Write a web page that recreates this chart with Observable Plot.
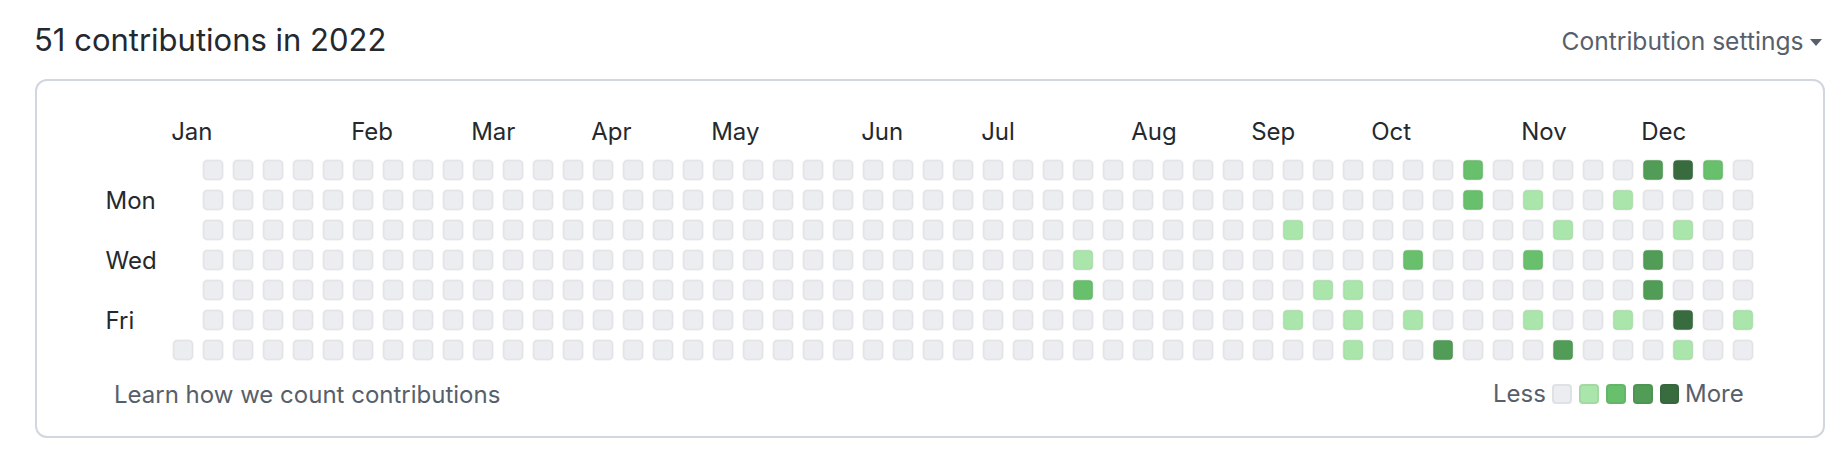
<!DOCTYPE html>
<html>
<head>
<meta charset="utf-8">
<script src="https://cdn.jsdelivr.net/npm/d3@7"></script>
<script src="https://cdn.jsdelivr.net/npm/@observablehq/plot@0.6"></script>
<style>
  html, body { margin: 0; padding: 0; background: #ffffff; }
  body { width: 1848px; height: 470px; position: relative; overflow: hidden;
         font-family: Inter, "Noto Sans", sans-serif; }
  .abs { position: absolute; line-height: 1; white-space: nowrap; }
  #box { position: absolute; left: 35px; top: 79px; width: 1790px; height: 359px;
         box-sizing: border-box; border: 2px solid #d0d7de; border-radius: 12px; }
  #chart { position: absolute; left: 0; top: 100px; }
  .lg { position: absolute; width: 19.5px; height: 19.5px; box-sizing: border-box;
        border-radius: 4px; border: 2px solid rgba(27,31,35,0.06); }
</style>
</head>
<body>
<div id="box"></div>
<div id="title" class="abs" style="left:34px; top:24px; font-size:31px; color:#24292f;"></div>
<div id="settings" class="abs" style="right:44.5px; top:28.5px; font-size:24.6px; color:#57606a;"></div>
<div class="abs" style="left:1810px; top:38.5px; width:0; height:0; border-left:6px solid transparent; border-right:6px solid transparent; border-top:7px solid #57606a;"></div>
<div id="learn" class="abs" style="left:114px; top:382.5px; font-size:24px; color:#57606a;"></div>
<div id="legend"></div>
<div id="chart"></div>
<script>
// ---- data ----
const year = 2022;
const titleText = "51 contributions in 2022";
const settingsText = "Contribution settings";
const learnText = "Learn how we count contributions";
const legendLabels = ["Less", "More"];
const monthNames = ["Jan","Feb","Mar","Apr","May","Jun","Jul","Aug","Sep","Oct","Nov","Dec"];
const dayNames = ["Sun","Mon","Tue","Wed","Thu","Fri","Sat"];
const shownDays = [1, 3, 5];
const levelColors = ["#ebedf0", "#aae6ab", "#68c06c", "#519c56", "#386c3f"];

// days with contributions (all other days of 2022 have 0)
const activeDates = [
  "2022-07-27","2022-07-28",
  "2022-09-13","2022-09-16","2022-09-22","2022-09-29","2022-09-30",
  "2022-10-01","2022-10-12","2022-10-14","2022-10-22","2022-10-23","2022-10-24",
  "2022-11-07","2022-11-09","2022-11-11","2022-11-15","2022-11-19","2022-11-28",
  "2022-12-02","2022-12-04","2022-12-07","2022-12-08","2022-12-11","2022-12-13",
  "2022-12-16","2022-12-17","2022-12-18","2022-12-30"
];
const activeCounts = [
  1,2,
  1,1,1,1,1,
  1,2,1,3,2,2,
  1,2,1,1,3,1,
  1,3,3,3,4,1,
  4,1,2,1
];

// ---- build table ----
const countByDate = new Map(activeDates.map((d, i) => [d, activeCounts[i]]));
const start = new Date(Date.UTC(year, 0, 1));
const end = new Date(Date.UTC(year + 1, 0, 1));
const days = d3.utcDay.range(start, end).map(d => {
  const key = d3.utcFormat("%Y-%m-%d")(d);
  const count = countByDate.get(key) || 0;
  return {
    date: d,
    week: d3.utcSunday.count(start, d),
    weekday: d.getUTCDay(),
    count,
    level: Math.min(4, count)
  };
});
const nWeeks = d3.max(days, d => d.week) + 1;

// month label at the first column whose first shown day lies in that month
const monthWeek = new Map();
for (const d of days) {
  const m = d.date.getUTCMonth();
  if ((d.weekday === 0 || +d.date === +start) && !monthWeek.has(m)) monthWeek.set(m, d.week);
}
const monthTicks = [...monthWeek.values()];
const labelByWeek = new Map([...monthWeek].map(([m, w]) => [w, monthNames[m]]));

// ---- layout ----
const pitch = 30, cellInset = 4.25;
const svgTop = 100, svgH = 270;
const gridLeft = 172.3, gridTop = 159.3;
const mLeft = gridLeft - cellInset;
const mTop = gridTop - cellInset - svgTop;
const W = 1848;

const chart = Plot.plot({
  width: W,
  height: svgH,
  marginLeft: mLeft,
  marginRight: W - mLeft - nWeeks * pitch,
  marginTop: mTop,
  marginBottom: svgH - mTop - 7 * pitch,
  style: { fontFamily: "Inter, 'Noto Sans', sans-serif", fontSize: "24px", color: "#24292f", background: "transparent", overflow: "visible" },
  x: { type: "band", domain: d3.range(nWeeks), padding: 0, round: false },
  y: { type: "band", domain: d3.range(7), padding: 0, round: false },
  color: { type: "ordinal", domain: [0, 1, 2, 3, 4], range: levelColors },
  marks: [
    Plot.cell(days, {
      x: "week", y: "weekday", fill: "level",
      inset: cellInset + 1, rx: 4,
      stroke: "rgba(27,31,35,0.06)", strokeWidth: 2
    }),
    Plot.axisX({
      anchor: "top", ticks: monthTicks, tickFormat: w => labelByWeek.get(w),
      tickSize: 0, tickPadding: 16, textAnchor: "start", dx: -(pitch / 2) + 2.6,
      fill: "#24292f", fontSize: 24, label: null
    }),
    Plot.axisY({
      anchor: "left", ticks: shownDays, tickFormat: i => dayNames[i],
      tickSize: 0, tickPadding: 0, textAnchor: "start", dx: 105 - mLeft, dy: 1,
      fill: "#24292f", fontSize: 24, label: null
    })
  ]
});
document.getElementById("chart").appendChild(chart);

// ---- page texts & legend ----
document.getElementById("title").textContent = titleText;
document.getElementById("settings").textContent = settingsText;
document.getElementById("learn").textContent = learnText;

const legend = document.getElementById("legend");
const lessEl = document.createElement("div");
lessEl.className = "abs";
lessEl.style.cssText = "left:1493px; top:382px; font-size:24px; color:#57606a;";
lessEl.textContent = legendLabels[0];
legend.appendChild(lessEl);
levelColors.forEach((c, i) => {
  const sq = document.createElement("div");
  sq.className = "lg";
  sq.style.left = (1552.3 + i * 26.9) + "px";
  sq.style.top = "384.3px";
  sq.style.background = c;
  legend.appendChild(sq);
});
const moreEl = document.createElement("div");
moreEl.className = "abs";
moreEl.style.cssText = "left:1685px; top:382px; font-size:24px; color:#57606a;";
moreEl.textContent = legendLabels[1];
legend.appendChild(moreEl);
</script>
</body>
</html>
